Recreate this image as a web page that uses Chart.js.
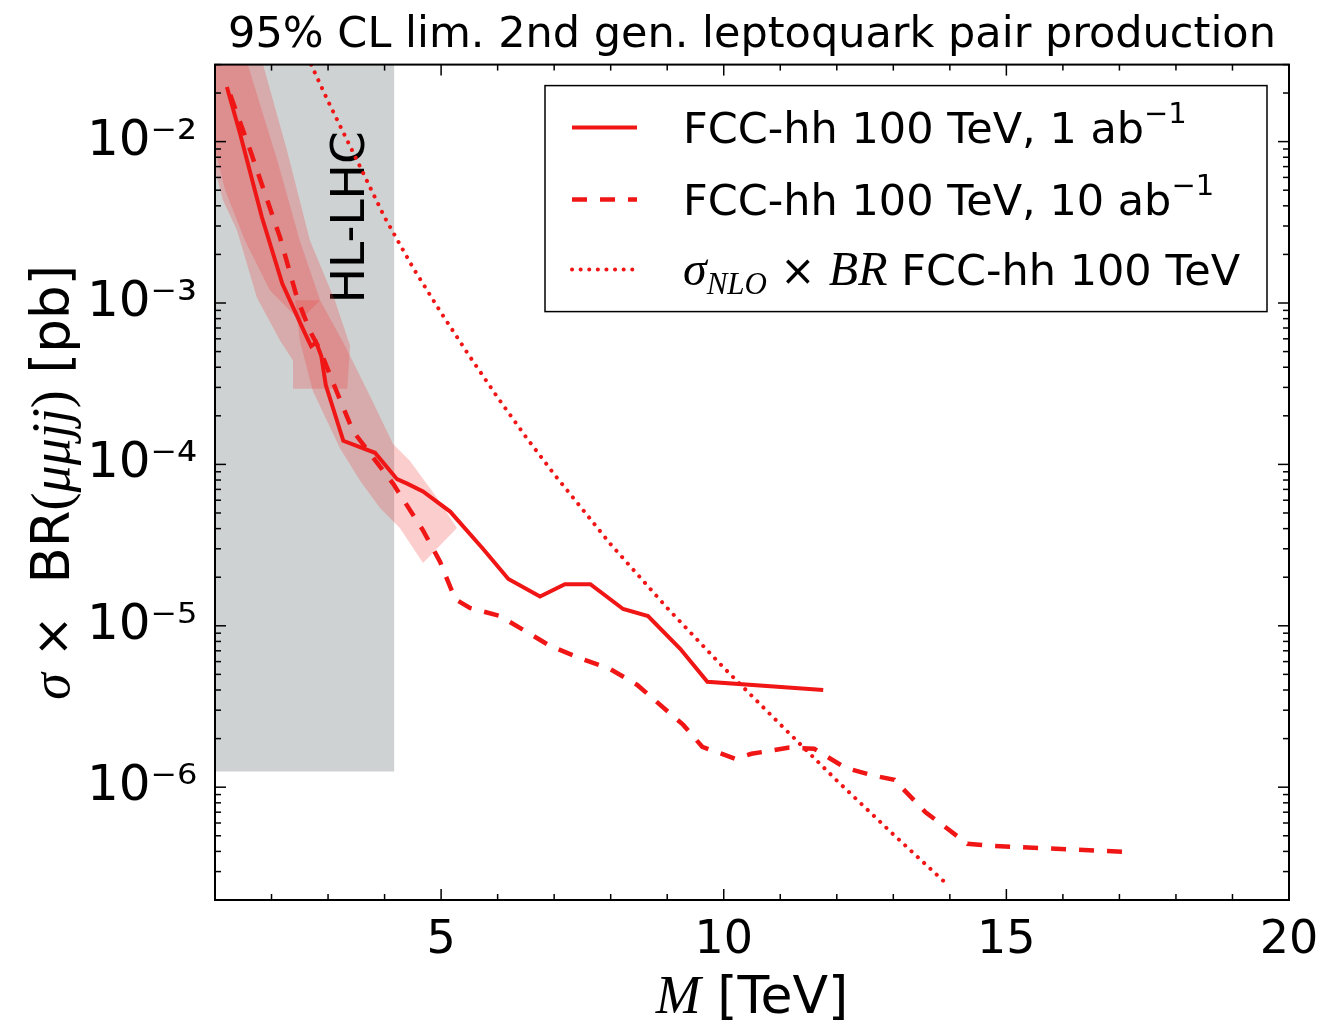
<!DOCTYPE html>
<html>
<head>
<meta charset="utf-8">
<script src="https://cdn.jsdelivr.net/npm/chart.js@4.4.1/dist/chart.umd.min.js"></script>
<style>
  html, body { margin: 0; padding: 0; background: #fff; }
</style>
</head>
<body>
<canvas id="grafico" width="1335" height="1027"></canvas>
<script>
// masses in TeV, cross sections in pb
const massLim1 = [1.21, 1.44, 1.83, 2.19, 2.59, 2.70, 2.79, 2.88, 2.96, 3.27, 3.83, 4.22, 4.40, 4.68, 5.16, 5.74, 6.19, 6.75, 7.19, 7.64, 8.22, 8.66, 9.23, 9.71, 11.76];
const sigmaLim1 = [2.18e-2, 1.13e-2, 3.4e-3, 1.32e-3, 6.5e-4, 5.4e-4, 5.7e-4, 4.7e-4, 3.1e-4, 1.4e-4, 1.18e-4, 8.1e-5, 7.6e-5, 6.8e-5, 5.1e-5, 3.0e-5, 1.95e-5, 1.52e-5, 1.81e-5, 1.81e-5, 1.27e-5, 1.15e-5, 7.2e-6, 4.5e-6, 4.0e-6];

const massLim10 = [1.27, 1.62, 2.15, 2.45, 2.68, 2.86, 3.09, 3.44, 3.80, 4.15, 4.68, 4.98, 5.25, 5.51, 6.04, 6.93, 7.51, 7.99, 8.47, 9.28, 9.62, 10.20, 10.49, 11.16, 11.60, 12.15, 12.65, 13.02, 13.57, 14.31, 14.73, 17.10];
const sigmaLim10 = [1.95e-2, 8.9e-3, 2.55e-3, 1.08e-3, 6.7e-4, 5.1e-4, 3.2e-4, 1.61e-4, 1.10e-4, 7.6e-5, 3.9e-5, 2.5e-5, 1.46e-5, 1.29e-5, 1.15e-5, 7.5e-6, 6.2e-6, 5.4e-6, 4.3e-6, 2.44e-6, 1.78e-6, 1.50e-6, 1.61e-6, 1.76e-6, 1.73e-6, 1.32e-6, 1.18e-6, 1.11e-6, 7.0e-7, 4.46e-7, 4.33e-7, 3.97e-7];

const massTheory = [2.7, 3.0, 3.5, 4.0, 4.5, 5.0, 5.5, 6.0, 6.5, 7.0, 8.0, 9.0, 10.0, 11.0, 12.0, 13.0, 13.9];
const sigmaTheory = [3.0e-2, 1.78e-2, 7.8e-3, 3.4e-3, 1.66e-3, 8.7e-4, 4.7e-4, 2.6e-4, 1.48e-4, 8.7e-5, 3.2e-5, 1.29e-5, 5.5e-6, 2.45e-6, 1.1e-6, 5.1e-7, 2.6e-7];

// uncertainty bands (outline, going round each shape)
const bandOuterMass = [1.00, 1.85, 2.27, 2.68, 3.12, 3.39, 3.34, 2.38, 2.38, 2.15, 1.74, 1.39, 1.14, 1.00];
const bandOuterSigma = [3.0e-2, 3.0e-2, 8.9e-3, 2.44e-3, 1.04e-3, 5.44e-4, 2.94e-4, 2.94e-4, 4.4e-4, 5.85e-4, 1.08e-3, 2.82e-3, 4.34e-3, 6.65e-3];
const bandInnerMass = [1.00, 1.58, 2.10, 2.50, 2.86, 2.50, 1.97, 1.53, 1.18, 1.00];
const bandInnerSigma = [3.0e-2, 3.0e-2, 7.7e-3, 2.44e-3, 1.04e-3, 7.8e-4, 1.2e-3, 2.44e-3, 5.0e-3, 8.9e-3];
const bandLowMass = [2.42, 2.86, 3.30, 3.74, 4.15, 4.45, 4.93, 5.28, 4.68, 4.27, 3.92, 3.57, 3.21, 2.73, 2.50];
const bandLowSigma = [1.04e-3, 1.04e-3, 5.44e-4, 2.66e-4, 1.34e-4, 1.05e-4, 6.2e-5, 4.04e-5, 2.45e-5, 4.04e-5, 5.37e-5, 7.9e-5, 1.26e-4, 2.86e-4, 5.85e-4];

// HL-LHC excluded region
const hlLhcMass = [1.0, 4.17, 4.17, 1.0];
const hlLhcSigma = [3.0e-2, 3.0e-2, 1.25e-6, 1.25e-6];
const hlLhcLabelPos = [3.42, 3.4e-3];

const xTickValues = [5, 10, 15, 20];
const yTickValues = [1e-6, 1e-5, 1e-4, 1e-3, 1e-2];
const seriesNames = ['FCC-hh 100 TeV, 1 ab', 'FCC-hh 100 TeV, 10 ab', 'FCC-hh 100 TeV'];

const RED = 'rgb(240,22,22)';
const BAND = 'rgba(240,60,60,0.26)';
const GRAY = 'rgb(207,210,210)';
const SANS = '"DejaVu Sans"';
const SERIF = '"Liberation Serif"';

const SUP = {'-': '⁻', '0': '⁰', '1': '¹', '2': '²', '3': '³', '4': '⁴', '5': '⁵', '6': '⁶', '7': '⁷', '8': '⁸', '9': '⁹'};
const sup = s => s.split('').map(c => SUP[c]).join('');
const toPoints = (xs, ys) => xs.map((x, i) => ({x: x, y: ys[i]}));

function polygon(label, xs, ys, color, order) {
    return {
        label: label, data: toPoints(xs, ys), fill: 'shape', backgroundColor: color,
        borderColor: 'transparent', borderWidth: 0, pointRadius: 0, order: order
    };
}

// draws a run of text pieces with their own fonts, one after the other
function drawRich(ctx, parts, x, y, center) {
    let total = 0;
    parts.forEach(p => { ctx.font = p.font; p.w = ctx.measureText(p.text).width; total += p.w; });
    let cx = center ? x - total / 2 : x;
    parts.forEach(p => {
        ctx.font = p.font;
        ctx.fillText(p.text, cx, y + (p.dy || 0));
        cx += p.w;
    });
}

const decoracao = {
    id: 'decoracao',
    afterDatasetDraw(chart, args) {
        if (args.meta.label !== 'HL-LHC') return;
        const {ctx, scales: {x, y}} = chart;
        ctx.save();
        ctx.translate(x.getPixelForValue(hlLhcLabelPos[0]), y.getPixelForValue(hlLhcLabelPos[1]));
        ctx.rotate(-Math.PI / 2);
        ctx.fillStyle = '#000';
        ctx.font = '47px ' + SANS;
        ctx.textAlign = 'center';
        ctx.textBaseline = 'middle';
        ctx.fillText('HL-LHC', 0, 0);
        ctx.restore();
    },
    afterDraw(chart) {
        const {ctx, chartArea: a, scales: {x, y}} = chart;
        ctx.save();
        ctx.strokeStyle = '#000';
        ctx.fillStyle = '#000';

        // inward ticks on all four sides
        ctx.lineWidth = 1.5;
        const tick = (x1, y1, x2, y2) => { ctx.beginPath(); ctx.moveTo(x1, y1); ctx.lineTo(x2, y2); ctx.stroke(); };
        for (let m = Math.ceil(x.min); m <= x.max; m++) {
            const px = x.getPixelForValue(m);
            const len = m % 5 === 0 ? 11 : 6;
            tick(px, a.bottom, px, a.bottom - len);
            tick(px, a.top, px, a.top + len);
        }
        for (let e = Math.floor(Math.log10(y.min)); e <= Math.ceil(Math.log10(y.max)); e++) {
            for (let k = 1; k < 10; k++) {
                const v = k * Math.pow(10, e);
                if (v < y.min || v > y.max) continue;
                const py = y.getPixelForValue(v);
                const len = k === 1 ? 11 : 6;
                tick(a.left, py, a.left + len, py);
                tick(a.right, py, a.right - len, py);
            }
        }
        ctx.lineWidth = 2;
        ctx.strokeRect(a.left, a.top, a.right - a.left, a.bottom - a.top);

        // axis titles
        ctx.textAlign = 'left';
        ctx.textBaseline = 'alphabetic';
        drawRich(ctx, [
            {text: 'M', font: 'italic 54px ' + SERIF},
            {text: ' [TeV]', font: '52px ' + SANS}
        ], (a.left + a.right) / 2, 1013, true);

        ctx.save();
        ctx.translate(50, (a.top + a.bottom) / 2);
        ctx.rotate(-Math.PI / 2);
        drawRich(ctx, [
            {text: 'σ', font: 'italic 54px ' + SERIF},
            {text: ' ×  ', font: '50px ' + SANS},
            {text: 'BR', font: '53px ' + SANS},
            {text: '(', font: '54px ' + SERIF},
            {text: 'μμjj', font: 'italic 54px ' + SERIF},
            {text: ')', font: '54px ' + SERIF},
            {text: ' [pb]', font: '53px ' + SANS}
        ], 0, 19, true);
        ctx.restore();

        // legend
        const bw = 722, bh = 226;
        const bx = a.right - 22 - bw, by = a.top + 21;
        ctx.fillStyle = '#fff';
        ctx.fillRect(bx, by, bw, bh);
        ctx.lineWidth = 1.5;
        ctx.strokeRect(bx, by, bw, bh);
        const rows = [
            [{text: seriesNames[0], font: '43px ' + SANS}, {text: '−1', font: '29px ' + SANS, dy: -20}],
            [{text: seriesNames[1], font: '43px ' + SANS}, {text: '−1', font: '29px ' + SANS, dy: -20}],
            [{text: 'σ', font: 'italic 48px ' + SERIF}, {text: 'NLO', font: 'italic 31px ' + SERIF, dy: 9},
             {text: ' × ', font: '42px ' + SANS}, {text: 'BR', font: 'italic 48px ' + SERIF},
             {text: ' ' + seriesNames[2], font: '43px ' + SANS}]
        ];
        const rowY = [42, 114, 184];
        rows.forEach((parts, i) => {
            const ds = chart.data.datasets[i];
            const cy = by + rowY[i];
            ctx.strokeStyle = ds.borderColor;
            ctx.lineWidth = ds.borderWidth;
            ctx.lineCap = ds.borderCapStyle || 'butt';
            ctx.setLineDash(ds.borderDash || []);
            ctx.beginPath();
            ctx.moveTo(bx + 27, cy);
            ctx.lineTo(bx + 92, cy);
            ctx.stroke();
            ctx.setLineDash([]);
            ctx.fillStyle = '#000';
            drawRich(ctx, parts, bx + 138, cy + 15, false);
        });
        ctx.restore();
    }
};

new Chart(document.getElementById('grafico'), {
    type: 'line',
    data: {
        datasets: [
            {label: seriesNames[0], data: toPoints(massLim1, sigmaLim1), borderColor: RED, borderWidth: 4, pointRadius: 0, fill: false, order: 0},
            {label: seriesNames[1], data: toPoints(massLim10, sigmaLim10), borderColor: RED, borderWidth: 4.5, borderDash: [15, 13], pointRadius: 0, fill: false, order: 0},
            {label: seriesNames[2], data: toPoints(massTheory, sigmaTheory), borderColor: RED, borderWidth: 4, borderDash: [0.1, 8.5], borderCapStyle: 'round', pointRadius: 0, fill: false, order: 0},
            polygon('band inner', bandInnerMass, bandInnerSigma, BAND, 1),
            polygon('band outer', bandOuterMass, bandOuterSigma, BAND, 1),
            polygon('band low', bandLowMass, bandLowSigma, BAND, 1),
            polygon('HL-LHC', hlLhcMass, hlLhcSigma, GRAY, 2)
        ]
    },
    options: {
        responsive: false,
        animation: false,
        devicePixelRatio: 1,
        layout: {padding: {left: 0, right: 46, top: 0, bottom: 0}},
        elements: {line: {tension: 0}},
        plugins: {
            legend: {display: false},
            tooltip: {enabled: false},
            title: {
                display: true,
                fullSize: false,
                text: '95% CL lim. 2nd gen. leptoquark pair production',
                color: '#000',
                font: {family: SANS, size: 43, weight: 'normal'},
                padding: {top: 10, bottom: 3}
            }
        },
        scales: {
            x: {
                type: 'linear', min: 1, max: 20,
                grid: {display: false}, border: {display: false},
                afterFit: s => { s.height = 127; },
                afterBuildTicks: s => { s.ticks = xTickValues.map(v => ({value: v})); },
                ticks: {autoSkip: false, maxRotation: 0, padding: 5, color: '#000', font: {family: SANS, size: 46}}
            },
            y: {
                type: 'logarithmic', min: 2e-7, max: 3e-2,
                grid: {display: false}, border: {display: false},
                afterFit: s => { s.width = 215; },
                afterBuildTicks: s => { s.ticks = yTickValues.map(v => ({value: v})); },
                ticks: {
                    autoSkip: false, padding: 10, color: '#000', font: {family: SANS, size: 50},
                    callback: v => '10' + sup(String(Math.round(Math.log10(v))))
                }
            }
        }
    },
    plugins: [decoracao]
});
</script>
</body>
</html>
